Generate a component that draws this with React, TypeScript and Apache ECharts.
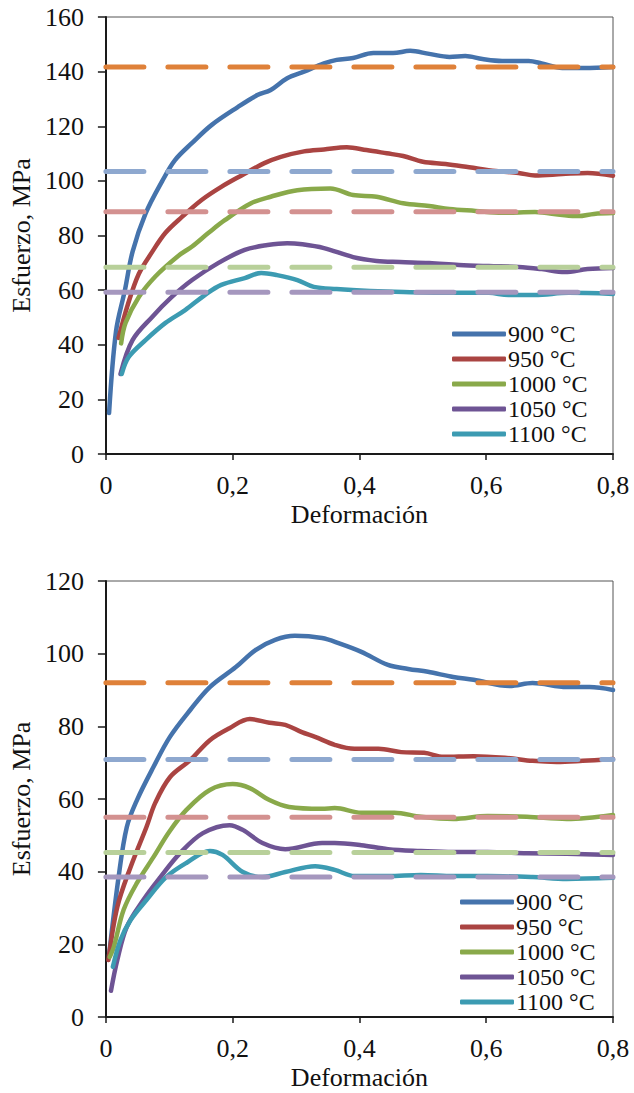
import React, { useEffect, useRef } from "react";
import * as echarts from "echarts";

const legendNames = ["900 °C", "950 °C", "1000 °C", "1050 °C", "1100 °C"];
const xTicks = [0, 0.2, 0.4, 0.6, 0.8];

const top900 = [[0.005,15],[0.016,45],[0.03,60],[0.042,74],[0.0625,88],[0.089,100],[0.109,107.6],[0.136,113.9],[0.167,120.5],[0.208,127],[0.239,131.4],[0.26,133.3],[0.286,137.6],[0.3125,140],[0.344,143],[0.364,144.3],[0.39,145],[0.422,146.8],[0.453,146.8],[0.48,147.6],[0.51,146.5],[0.542,145.4],[0.567,145.7],[0.594,144.6],[0.625,143.9],[0.667,143.9],[0.6875,143],[0.72,141.3],[0.755,141.3],[0.8,141.7]];
const top950 = [[0.02,42.5],[0.035,55],[0.052,66],[0.073,74],[0.094,81],[0.12,86.8],[0.151,93],[0.182,97.8],[0.214,102],[0.25,106.5],[0.276,108.8],[0.3125,110.8],[0.344,111.5],[0.38,112.3],[0.411,111.3],[0.443,110.1],[0.469,109.1],[0.5,107],[0.536,106.2],[0.573,105],[0.615,103.6],[0.651,102.9],[0.677,102],[0.72,102.5],[0.76,102.9],[0.8,101.9]];
const top1000 = [[0.024,40.5],[0.031,48],[0.052,57.5],[0.078,65],[0.114,72.5],[0.136,76],[0.161,80.8],[0.1875,85.6],[0.229,91.8],[0.26,94.2],[0.302,96.6],[0.354,97.2],[0.39,94.8],[0.427,94.2],[0.469,91.8],[0.51,90.8],[0.542,89.7],[0.583,89],[0.625,88.3],[0.677,88.6],[0.72,87.5],[0.745,87.1],[0.77,87.9],[0.8,88.2]];
const top1050 = [[0.023,29.3],[0.042,41.7],[0.073,50.2],[0.104,57.5],[0.136,63.7],[0.177,69.9],[0.219,74.7],[0.255,76.5],[0.286,77.2],[0.31,76.8],[0.344,75.4],[0.39,72.1],[0.427,70.7],[0.464,70.3],[0.51,69.9],[0.557,69.2],[0.604,68.8],[0.651,68.5],[0.6875,67.7],[0.724,66.6],[0.76,67.7],[0.8,68.1]];
const top1100 = [[0.025,29.3],[0.036,35.5],[0.0625,41.7],[0.094,48],[0.125,52.7],[0.156,58.2],[0.182,61.9],[0.219,64.4],[0.245,66.3],[0.27,65.5],[0.302,63.7],[0.328,61.2],[0.364,60.4],[0.417,59.7],[0.469,59.3],[0.547,59],[0.604,59],[0.635,58.2],[0.677,58.2],[0.73,59],[0.8,58.6]];
const topRefs = [141.7, 103.4, 88.7, 68.4, 59.2];

const bot900 = [[0.005,17],[0.02,38.5],[0.033,52.3],[0.049,59.7],[0.075,68.8],[0.101,77.1],[0.133,84.5],[0.164,90.8],[0.205,96.3],[0.236,101],[0.267,103.8],[0.298,104.9],[0.341,104.3],[0.367,102.9],[0.403,100.5],[0.445,96.9],[0.477,95.8],[0.508,95],[0.548,93.6],[0.58,92.8],[0.637,91.1],[0.673,91.9],[0.727,90.8],[0.763,90.8],[0.8,90]];
const bot950 = [[0.004,15.7],[0.018,30.3],[0.039,41.3],[0.064,52.3],[0.078,59],[0.101,66],[0.133,70.7],[0.164,76.2],[0.195,79.5],[0.227,82],[0.258,81],[0.283,80.4],[0.309,78.4],[0.33,77.1],[0.361,74.9],[0.392,73.8],[0.43,73.8],[0.466,72.9],[0.502,72.7],[0.533,71.6],[0.58,71.8],[0.633,71.3],[0.673,70.5],[0.711,70.2],[0.752,70.5],[0.8,71]];
const bot1000 = [[0.006,16.5],[0.0125,19.3],[0.028,29.5],[0.049,36.9],[0.075,44],[0.1,51],[0.127,57],[0.164,62.5],[0.2,64.1],[0.227,63],[0.258,59.7],[0.289,57.8],[0.341,57.3],[0.361,57.5],[0.403,56.2],[0.455,56.2],[0.497,55.1],[0.548,54.5],[0.602,55.3],[0.664,55.1],[0.727,54.5],[0.8,55.6]];
const bot1050 = [[0.008,7.2],[0.018,15.7],[0.033,24.8],[0.059,32.2],[0.086,38.5],[0.117,45.1],[0.153,50.6],[0.195,52.8],[0.216,51.5],[0.247,47.9],[0.283,46.2],[0.341,47.9],[0.361,47.9],[0.403,47.3],[0.445,46.2],[0.497,45.7],[0.548,45.4],[0.602,45.4],[0.664,45.1],[0.727,44.9],[0.8,44.6]];
const bot1100 = [[0.011,13.8],[0.023,21.2],[0.039,26.7],[0.064,32.2],[0.095,38.5],[0.127,42.4],[0.164,45.7],[0.184,44.6],[0.216,39.9],[0.247,38.5],[0.283,39.9],[0.33,41.5],[0.361,40.5],[0.392,38.8],[0.445,38.8],[0.497,39.1],[0.548,38.8],[0.602,38.8],[0.673,38.5],[0.727,38],[0.8,38.3]];
const botRefs = [92.0, 70.9, 55.0, 45.3, 38.5];

const solidColors = ["#4573AC", "#AA4442", "#89A94A", "#6E5494", "#3C9BB2"];
const dashColors = ["#DF8139", "#8EA8CF", "#D39190", "#B8D09A", "#A597BE"];
const FONT = "Liberation Serif";

export default function App() {
  const ref = useRef<HTMLDivElement>(null);
  useEffect(() => {
    if (!ref.current) return;
    const chart = echarts.init(ref.current, undefined, { renderer: "svg" });
    const mkX = (gi: number) => ({
      type: "value", gridIndex: gi, min: 0, max: 0.8, interval: 0.2,
      axisLine: { show: true, lineStyle: { color: "#1a1a1a", width: 2 } },
      axisTick: { show: true, length: 6, lineStyle: { color: "#1a1a1a", width: 1.5 } },
      axisLabel: { color: "#111", fontFamily: FONT, fontSize: 26, margin: 18,
        formatter: (v: number) => (v === 0 ? "0" : v.toFixed(1).replace(".", ",")) },
      splitLine: { show: false },
      name: "Deformación", nameLocation: "middle", nameGap: 47,
      nameTextStyle: { color: "#111", fontFamily: FONT, fontSize: 26 },
    });
    const mkY = (gi: number, max: number, gap: number) => ({
      type: "value", gridIndex: gi, min: 0, max, interval: 20,
      axisLine: { show: true, lineStyle: { color: "#1a1a1a", width: 2 } },
      axisTick: { show: true, length: 8, lineStyle: { color: "#1a1a1a", width: 1.5 } },
      axisLabel: { color: "#111", fontFamily: FONT, fontSize: 26, margin: 22 },
      splitLine: { show: false },
      name: "Esfuerzo, MPa", nameLocation: "middle", nameGap: gap,
      nameTextStyle: { color: "#111", fontFamily: FONT, fontSize: 26 },
    });
    const solid = (name: string, data: number[][], i: number, gi: number) => ({
      name, type: "line", xAxisIndex: gi, yAxisIndex: gi, data, symbol: "none", smooth: 0.35,
      lineStyle: { color: solidColors[i], width: 4.5, cap: "round", join: "round" },
      itemStyle: { color: solidColors[i] }, z: 2,
    });
    const dashed = (v: number, i: number, gi: number) => ({
      name: "ref" + gi + "_" + i, type: "line", xAxisIndex: gi, yAxisIndex: gi,
      data: [[0, v], [0.8, v]], symbol: "none", clip: false,
      lineStyle: { color: dashColors[i], width: 5, type: [38, 24], cap: "round" },
      itemStyle: { color: dashColors[i] }, z: 3,
    });
    const topSets = [top900, top950, top1000, top1050, top1100];
    const botSets = [bot900, bot950, bot1000, bot1050, bot1100];
    const series: any[] = [];
    topSets.forEach((d, i) => series.push(solid(legendNames[i], d, i, 0)));
    botSets.forEach((d, i) => series.push(solid(legendNames[i], d, i, 1)));
    topRefs.forEach((v, i) => series.push(dashed(v, i, 0)));
    botRefs.forEach((v, i) => series.push(dashed(v, i, 1)));
    const mkLegend = (left: number, top: number) => ({
      data: legendNames, orient: "vertical", left, top, itemWidth: 54, itemHeight: 5,
      icon: "roundRect", itemGap: 1, selectedMode: false,
      textStyle: { color: "#111", fontFamily: FONT, fontSize: 24, padding: [0, 0, 0, -3] },
    });
    chart.setOption({
      animation: false,
      backgroundColor: "#fff",
      grid: [
        { left: 100, top: 17, width: 513, height: 437, show: true, borderColor: "#555", borderWidth: 1 },
        { left: 102, top: 581, width: 511, height: 436, show: true, borderColor: "#555", borderWidth: 1 },
      ],
      xAxis: [mkX(0), mkX(1)],
      yAxis: [mkY(0, 160, 61), mkY(1, 120, 64)],
      legend: [mkLegend(447, 317), mkLegend(455, 885)],
      series,
    });
    return () => chart.dispose();
  }, []);
  return <div ref={ref} style={{ position: "fixed", left: 0, top: 0, width: 634, height: 1093 }} />;
}
